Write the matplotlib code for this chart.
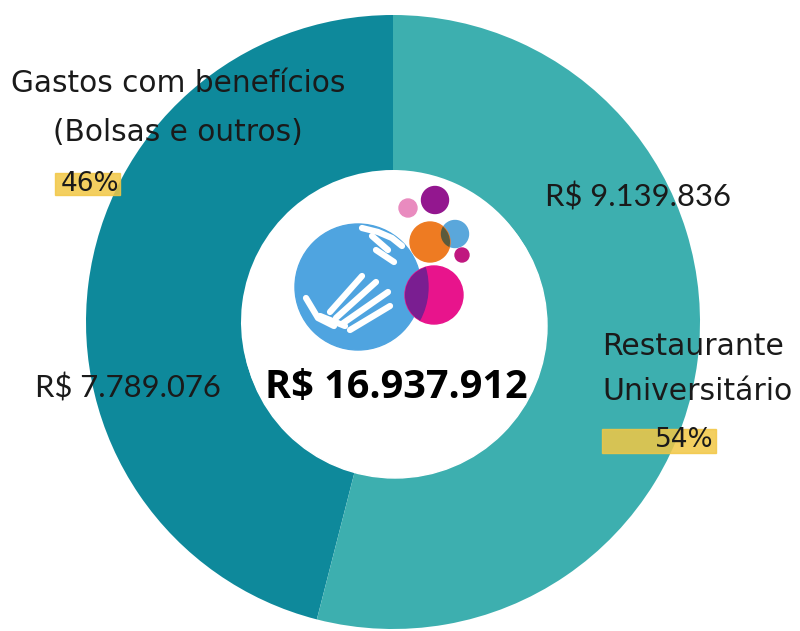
import matplotlib
matplotlib.use('Agg')
import matplotlib.pyplot as plt
from matplotlib.patches import Circle, Rectangle


# data
categories = ['Gastos com benefícios\n(Bolsas e outros)', 'Restaurante\nUniversitário']
values = [7789076, 9139836]
percents = [46, 54]
total = 16937912   # as printed in the centre of the chart
colors = ['#0E899B', '#3DAFAF']

W, H = 800, 631


def py(y):
    # picture rows are counted from the top
    return H - y


def brl(v):
    return 'R$ ' + f'{v:,}'.replace(',', '.')


fig = plt.figure(figsize=(W / 100, H / 100), dpi=100)
ax = fig.add_axes([0, 0, 1, 1])

# donut
ax.pie(values, colors=colors, startangle=90, counterclock=True,
       radius=307, center=(393, py(322)),
       wedgeprops=dict(width=155, edgecolor='none'))
ax.add_patch(Circle((395, py(326)), 152, color='white', zorder=2))

# logo in the middle (rough shapes)
ax.add_patch(Circle((358, py(287)), 63, color='#4FA4E0', zorder=3))
big = Circle((434, py(295)), 29, color='#E8148C', zorder=4)
ax.add_patch(big)
lens = Circle((358, py(287)), 70, color='#7A1E91', zorder=5)
ax.add_patch(lens)
lens.set_clip_path(big)
orange = Circle((430, py(242)), 20, color='#EE7B22', zorder=4)
ax.add_patch(orange)
ax.add_patch(Circle((455, py(234)), 13.5, color='#5AA7DB', zorder=3))
dark = Circle((455, py(234)), 13.5, color='#5B5A3C', zorder=5)
ax.add_patch(dark)
dark.set_clip_path(orange)
ax.add_patch(Circle((435, py(200)), 13.5, color='#93178F', zorder=4))
ax.add_patch(Circle((408, py(208)), 9, color='#E98BBF', zorder=4))
ax.add_patch(Circle((462, py(255)), 7, color='#C0177F', zorder=4))

# white hands
hand_lines = [
    [(362, 228), (378, 232), (392, 238), (402, 246)],
    [(372, 236), (388, 250)],
    [(376, 250), (394, 262)],
    [(306, 298), (318, 318), (334, 326)],
    [(330, 312), (362, 276)],
    [(336, 318), (376, 282)],
    [(342, 324), (388, 292)],
    [(350, 330), (390, 306)],
    [(320, 316), (345, 326)],
]
for pts in hand_lines:
    xs = [p[0] for p in pts]
    ys = [py(p[1]) for p in pts]
    ax.plot(xs, ys, color='white', lw=4.5, solid_capstyle='round', zorder=6)

# highlighter strokes behind the percentages
ax.add_patch(Rectangle((55, py(195)), 65, 22, color='#F2C744', alpha=0.85, zorder=7))
ax.add_patch(Rectangle((602, py(453)), 114, 24, color='#F2C744', alpha=0.85, zorder=7))

txt = dict(color='#1A1A1A', zorder=8)

# category labels
ax.text(178, py(108), categories[0], ha='center', va='center', ma='center',
        fontsize=21.3, family='DejaVu Sans', linespacing=1.86, **txt)
ax.text(602, py(369), categories[1], ha='left', va='center', ma='left',
        fontsize=21.5, family='DejaVu Sans', linespacing=1.73, **txt)
ax.text(90, py(184), f'{percents[0]}%', ha='center', va='center',
        fontsize=19, family='DejaVu Sans', **txt)
ax.text(684, py(440), f'{percents[1]}%', ha='center', va='center',
        fontsize=19, family='DejaVu Sans', **txt)

# values
ax.text(35, py(388), brl(values[0]), ha='left', va='center',
        fontsize=22.3, family='Lato', **txt)
ax.text(545, py(197), brl(values[1]), ha='left', va='center',
        fontsize=22.3, family='Lato', **txt)
ax.text(396, py(388), brl(total), ha='center', va='center',
        fontsize=28.5, family='Open Sans', fontweight='bold', color='black', zorder=8)

ax.set_xlim(0, W)
ax.set_ylim(0, H)
ax.set_aspect('equal')
ax.axis('off')

fig.savefig('out.png', dpi=100, facecolor='white')
